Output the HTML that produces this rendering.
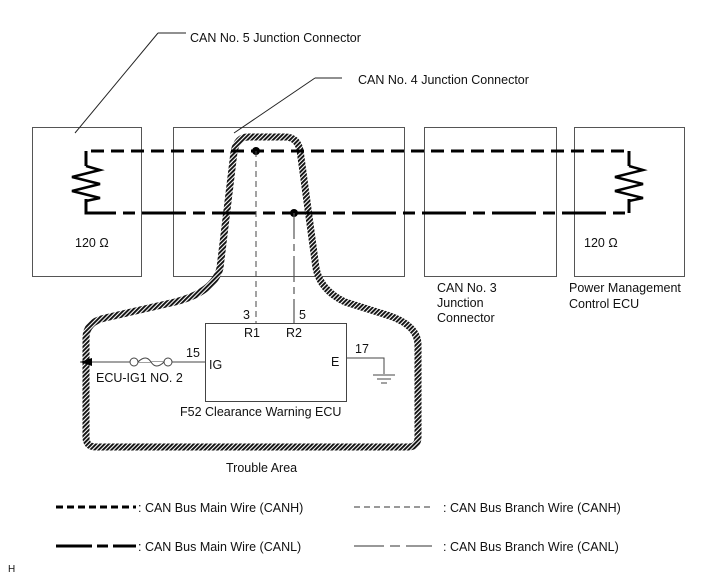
<!DOCTYPE html>
<html><head><style>
body{margin:0;background:#fff}
svg{display:block}
text{font-family:"Liberation Sans",Arial,sans-serif;font-size:12.5px;fill:#111}
</style></head><body>
<svg width="711" height="579" viewBox="0 0 711 579" xmlns="http://www.w3.org/2000/svg">
<defs>
<pattern id="h" width="3" height="3" patternUnits="userSpaceOnUse" patternTransform="rotate(45)">
<rect width="3" height="3" fill="#fff"/><rect width="1.9" height="3" fill="#111"/>
</pattern>
</defs>
<g fill="none" stroke="#555" stroke-width="1">
<rect x="32.5" y="127.5" width="109" height="149"/>
<rect x="173.5" y="127.5" width="231" height="149"/>
<rect x="424.5" y="127.5" width="132" height="149"/>
<rect x="574.5" y="127.5" width="110" height="149"/>
<line x1="75" y1="133" x2="158" y2="33" stroke="#222"/>
<line x1="158" y1="33" x2="186" y2="33" stroke="#222"/>
<line x1="234" y1="133" x2="315" y2="78" stroke="#222"/>
<line x1="315" y1="78" x2="342" y2="78" stroke="#222"/>
</g>
<path d="M248,137 L285,137 Q297,137 300,150 L316,268 Q320,290 345,302 L390,316 Q418,326 418,345 L418,437 Q418,447 408,447 L96,447 Q86,447 86,437 L86,338 Q86,322 105,318 L175,302 Q214,292 220,268 L234,152 Q237,137 248,137 Z" fill="none" stroke="url(#h)" stroke-width="7"/>
<path d="M86,166 L86,151 L629,151 L629,166" fill="none" stroke="#000" stroke-width="3" stroke-dasharray="13 7"/>
<path d="M86,199 L86,213 L629,213 L629,199" fill="none" stroke="#000" stroke-width="3" stroke-dasharray="44 7 12 7"/>
<path d="M86,151 L86,166" stroke="#000" stroke-width="3"/>
<path d="M629,151 L629,166 M629,199 L629,213 M86,199 L86,213" stroke="#000" stroke-width="3"/>
<polyline points="86,166 100,170 72,177 100,184 72,191 100,198 86,201" fill="none" stroke="#000" stroke-width="2.5"/>
<polyline points="629,166 643,170 615,177 643,184 615,191 643,198 629,201" fill="none" stroke="#000" stroke-width="2.5"/>
<circle cx="256" cy="151" r="4" fill="#000"/>
<circle cx="294" cy="213" r="4" fill="#000"/>
<line x1="256" y1="151" x2="256" y2="323" stroke="#444" stroke-width="1" stroke-dasharray="6 4"/>
<line x1="294" y1="213" x2="294" y2="323" stroke="#555" stroke-width="1.2" stroke-dasharray="26 5 7 5"/>
<rect x="205.5" y="323.5" width="141" height="78" fill="none" stroke="#444"/>
<line x1="80" y1="362" x2="205" y2="362" stroke="#444"/>
<path d="M80,362 L92,358 L92,366 Z" fill="#000"/>
<circle cx="134" cy="362" r="4" fill="#fff" stroke="#444"/>
<circle cx="168" cy="362" r="4" fill="#fff" stroke="#444"/>
<path d="M138,362 Q146,354 151,362 Q156,370 164,362" fill="#fff" stroke="#444"/>
<polyline points="346,358 384,358 384,374" fill="none" stroke="#444"/>
<line x1="373" y1="375" x2="395" y2="375" stroke="#444"/>
<line x1="377" y1="379" x2="391" y2="379" stroke="#444"/>
<line x1="381" y1="383" x2="387" y2="383" stroke="#444"/>
<text x="190" y="42">CAN No. 5 Junction Connector</text>
<text x="358" y="84">CAN No. 4 Junction Connector</text>
<text x="75" y="247">120 Ω</text>
<text x="584" y="247">120 Ω</text>
<text x="437" y="292">CAN No. 3</text>
<text x="437" y="307">Junction</text>
<text x="437" y="322">Connector</text>
<text x="569" y="292">Power Management</text>
<text x="569" y="308">Control ECU</text>
<text x="243" y="319">3</text>
<text x="299" y="319">5</text>
<text x="244" y="337">R1</text>
<text x="286" y="337">R2</text>
<text x="186" y="357">15</text>
<text x="209" y="369">IG</text>
<text x="355" y="353">17</text>
<text x="331" y="366">E</text>
<text x="96" y="382">ECU-IG1 NO. 2</text>
<text x="180" y="416">F52   Clearance Warning ECU</text>
<text x="226" y="472">Trouble Area</text>
<line x1="56" y1="507" x2="136" y2="507" stroke="#000" stroke-width="3" stroke-dasharray="7 4"/>
<text x="138" y="512">: CAN Bus Main Wire (CANH)</text>
<line x1="354" y1="507" x2="432" y2="507" stroke="#333" stroke-width="1" stroke-dasharray="6 4"/>
<text x="443" y="512">: CAN Bus Branch Wire (CANH)</text>
<line x1="56" y1="546" x2="136" y2="546" stroke="#000" stroke-width="3" stroke-dasharray="36 5 11 5"/>
<text x="138" y="551">: CAN Bus Main Wire (CANL)</text>
<line x1="354" y1="546" x2="432" y2="546" stroke="#777" stroke-width="1.5" stroke-dasharray="30 6 10 6"/>
<text x="443" y="551">: CAN Bus Branch Wire (CANL)</text>
<text x="8" y="572" style="font-size:10px">H</text>
</svg>
</body></html>
